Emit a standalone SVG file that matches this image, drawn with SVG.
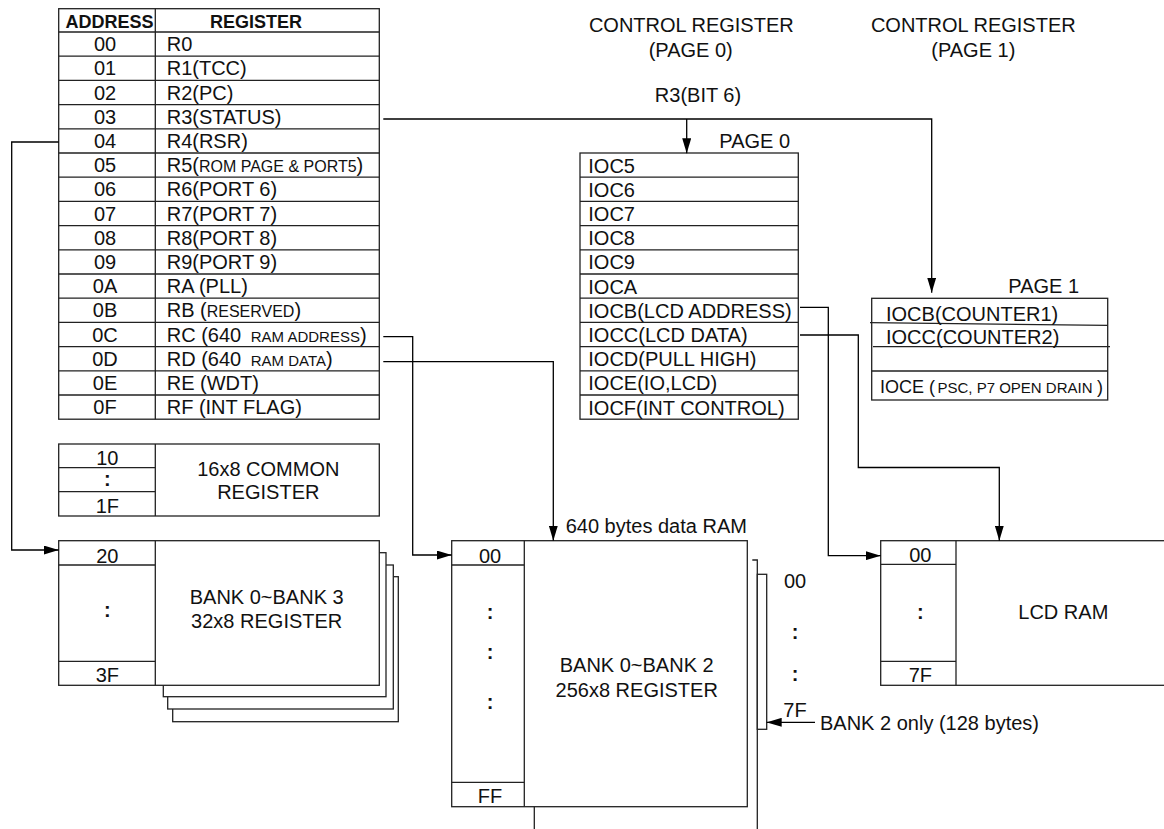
<svg xmlns="http://www.w3.org/2000/svg" width="1164" height="829" viewBox="0 0 1164 829">
<defs>
<marker id="arr" markerUnits="userSpaceOnUse" markerWidth="15" markerHeight="9" refX="15" refY="4.5" orient="auto">
<path d="M0,0 L15,4.5 L0,9 z" fill="#000"/>
</marker>
<style>
text{font-family:"Liberation Sans",Arial,sans-serif;font-size:20px;fill:#111}
.h{font-weight:bold;font-size:18px}
.c{text-anchor:middle}
.b{font-weight:bold}
.s{font-size:16px}
.xs{font-size:15px}
.m{font-size:18px}
.box{fill:#fff;stroke:#222;stroke-width:1.3}
.ln{fill:none;stroke:#222;stroke-width:1.3}
.con{fill:none;stroke:#000;stroke-width:1.3}
</style>
</defs>
<rect width="1164" height="829" fill="#fff"/>

<g id="register-table">
<rect class="box" x="58.7" y="8.7" width="320.6" height="410.5"/>
<path class="ln" d="M155.3 8.7V419.2M58.7 32H379.3M58.7 56.2H379.3M58.7 80.4H379.3M58.7 104.6H379.3M58.7 128.8H379.3M58.7 153H379.3M58.7 177.2H379.3M58.7 201.4H379.3M58.7 225.6H379.3M58.7 249.8H379.3M58.7 274H379.3M58.7 298.2H379.3M58.7 322.4H379.3M58.7 346.6H379.3M58.7 370.8H379.3M58.7 395H379.3"/>
<text class="h c" x="109.5" y="28.3">ADDRESS</text>
<text class="h c" x="256" y="28.3">REGISTER</text>
<g class="c">
<text class="c" x="105" y="51.2">00</text>
<text class="c" x="105" y="75.4">01</text>
<text class="c" x="105" y="99.6">02</text>
<text class="c" x="105" y="123.8">03</text>
<text class="c" x="105" y="148">04</text>
<text class="c" x="105" y="172.2">05</text>
<text class="c" x="105" y="196.4">06</text>
<text class="c" x="105" y="220.6">07</text>
<text class="c" x="105" y="244.8">08</text>
<text class="c" x="105" y="269">09</text>
<text class="c" x="105" y="293.2">0A</text>
<text class="c" x="105" y="317.4">0B</text>
<text class="c" x="105" y="341.6">0C</text>
<text class="c" x="105" y="365.8">0D</text>
<text class="c" x="105" y="390">0E</text>
<text class="c" x="105" y="414.2">0F</text>
</g>
<text x="166.7" y="51.2">R0</text>
<text x="166.7" y="75.4">R1(TCC)</text>
<text x="166.7" y="99.6">R2(PC)</text>
<text x="166.7" y="123.8">R3(STATUS)</text>
<text x="166.7" y="148">R4(RSR)</text>
<text x="166.7" y="172.2">R5(<tspan class="s">ROM PAGE &amp; PORT5</tspan>)</text>
<text x="166.7" y="196.4">R6(PORT 6)</text>
<text x="166.7" y="220.6">R7(PORT 7)</text>
<text x="166.7" y="244.8">R8(PORT 8)</text>
<text x="166.7" y="269">R9(PORT 9)</text>
<text x="166.7" y="293.2">RA (PLL)</text>
<text x="166.7" y="317.4">RB (<tspan class="s">RESERVED</tspan>)</text>
<text x="166.7" y="341.6">RC (640 <tspan class="xs" dx="4">RAM ADDRESS</tspan>)</text>
<text x="166.7" y="365.8">RD (640 <tspan class="xs" dx="4">RAM DATA</tspan>)</text>
<text x="166.7" y="390">RE (WDT)</text>
<text x="166.7" y="414.2">RF (INT FLAG)</text>
</g>

<g id="common-register">
<rect class="box" x="58.7" y="444" width="320.6" height="72"/>
<path class="ln" d="M155.3 444V516M58.7 467.7H155.3M58.7 491.7H155.3"/>
<text class="c" x="107.3" y="465">10</text>
<text class="c b" x="107.3" y="486">:</text>
<text class="c" x="107.3" y="512.7">1F</text>
<text class="c" x="268.3" y="476">16x8 COMMON</text>
<text class="c" x="268.3" y="499.3">REGISTER</text>
</g>

<g id="bank-0-3">
<rect class="box" x="172.7" y="576.7" width="225.6" height="145"/>
<rect class="box" x="167.7" y="565" width="225.6" height="144"/>
<rect class="box" x="163.3" y="552.7" width="222.7" height="144"/>
<rect class="box" x="58.7" y="540.7" width="320.6" height="144.6"/>
<path class="ln" d="M155.3 540.7V685.3M58.7 565H155.3M58.7 661.3H155.3"/>
<text class="c" x="107.3" y="562.7">20</text>
<text class="c b" x="107.3" y="617">:</text>
<text class="c" x="107.3" y="681.7">3F</text>
<text class="c" x="266.7" y="604">BANK 0~BANK 3</text>
<text class="c" x="266.7" y="628.3">32x8 REGISTER</text>
</g>

<g id="control-page0">
<text class="c" x="691.3" y="31.7">CONTROL REGISTER</text>
<text class="c" x="690.7" y="57.3">(PAGE 0)</text>
<text class="c" x="698" y="101.7">R3(BIT 6)</text>
<text x="719.3" y="147.7">PAGE 0</text>
<rect class="box" x="580" y="153" width="218.3" height="266.2"/>
<path class="ln" d="M580 177.2H798.3M580 201.4H798.3M580 225.6H798.3M580 249.8H798.3M580 274H798.3M580 298.2H798.3M580 322.4H798.3M580 346.6H798.3M580 370.8H798.3M580 395H798.3"/>
<text x="588.3" y="172.5">IOC5</text>
<text x="588.3" y="196.7">IOC6</text>
<text x="588.3" y="220.9">IOC7</text>
<text x="588.3" y="245.1">IOC8</text>
<text x="588.3" y="269.3">IOC9</text>
<text x="588.3" y="293.5">IOCA</text>
<text x="588.3" y="317.7">IOCB(LCD ADDRESS)</text>
<text x="588.3" y="341.9">IOCC(LCD DATA)</text>
<text x="588.3" y="366.1">IOCD(PULL HIGH)</text>
<text x="588.3" y="390.3">IOCE(IO,LCD)</text>
<text x="588.3" y="414.5">IOCF(INT CONTROL)</text>
</g>

<g id="control-page1">
<text class="c" x="973.3" y="31.7">CONTROL REGISTER</text>
<text class="c" x="973.3" y="57.3">(PAGE 1)</text>
<text x="1008.3" y="292.7">PAGE 1</text>
<rect class="box" x="871.7" y="298.3" width="236" height="101.7"/>
<path class="ln" d="M870 322.7L1108 325.3M873 346.7H1110M871.7 371H1107.7"/>
<text x="886" y="320.7">IOCB(COUNTER1)</text>
<text x="886" y="344">IOCC(COUNTER2)</text>
<text class="m" x="880" y="393.3">IOCE (</text>
<text class="xs" x="937.5" y="393.3">PSC, P7 OPEN DRAIN</text>
<text class="m" x="1097" y="393.3">)</text>
</g>

<g id="data-ram">
<text x="565.7" y="533.3">640 bytes data RAM</text>
<rect class="box" x="451.7" y="540.7" width="295.6" height="266"/>
<path class="ln" d="M524.3 540.7V806.7M451.7 565H524.3M451.7 782.3H524.3"/>
<text class="c" x="490" y="562.7">00</text>
<text class="c b" x="490" y="618.5">:</text>
<text class="c b" x="490" y="658.5">:</text>
<text class="c b" x="490" y="708.5">:</text>
<text class="c" x="490" y="803.3">FF</text>
<text class="c" x="636.7" y="671.7">BANK 0~BANK 2</text>
<text class="c" x="636.7" y="696.7">256x8 REGISTER</text>
<path class="ln" d="M534.3 806.7V829M752.3 560H757.3V829"/>
<rect class="box" x="757.3" y="574.3" width="9.4" height="155"/>
<text x="784" y="588.3">00</text>
<text class="c b" x="795" y="638.5">:</text>
<text class="c b" x="795" y="680.5">:</text>
<text x="783.3" y="716.7">7F</text>
<text x="820" y="730">BANK 2 only (128 bytes)</text>
</g>

<g id="lcd-ram">
<rect class="box" x="880.7" y="540.7" width="300" height="144.6"/>
<path class="ln" d="M956 540.7V685.3M880.7 564.3H956M880.7 661.3H956"/>
<text class="c" x="920.3" y="561.7">00</text>
<text class="c b" x="920.3" y="618.5">:</text>
<text class="c" x="920.3" y="681.7">7F</text>
<text class="c" x="1063.3" y="619.3">LCD RAM</text>
</g>

<g id="connectors">
<path class="con" d="M383.3 119H931.7V292.7" marker-end="url(#arr)"/>
<path class="con" d="M686.7 119V153.3" marker-end="url(#arr)"/>
<path class="con" d="M58.7 142H11.7V550H58.7" marker-end="url(#arr)"/>
<path class="con" d="M383.3 336.7H412.7V555H451.7" marker-end="url(#arr)"/>
<path class="con" d="M383.3 361.7H553.3V540.7" marker-end="url(#arr)"/>
<path class="con" d="M800 307.3H828.3V555.7H880.7" marker-end="url(#arr)"/>
<path class="con" d="M800 335H858.3V467.5H999.3V540.7" marker-end="url(#arr)"/>
<path class="con" d="M815 722.3H766.7" marker-end="url(#arr)"/>
</g>
</svg>
